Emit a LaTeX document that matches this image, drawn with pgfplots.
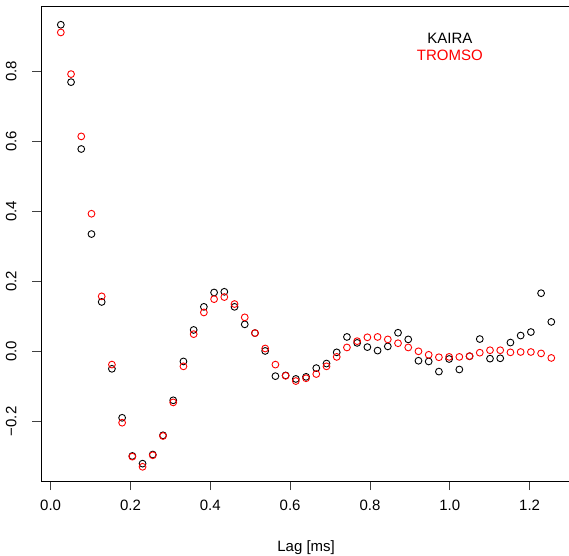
\documentclass[border=0pt]{standalone}
\usepackage{fontspec}
\setmainfont{Liberation Sans}
\usepackage{pgfplots}
\pgfplotsset{compat=1.18}
\begin{document}
\begin{tikzpicture}[x=1pt,y=1pt]
\begin{axis}[
  at={(41.5pt,74pt)}, anchor=south west,
  scale only axis, width=529.2pt, height=475pt,
  xmin=-0.0228, xmax=1.303, ymin=-0.3706, ymax=0.9866,
  axis line style={line width=0.8pt},
  xtick={0,0.2,0.4,0.6,0.8,1.0,1.2},
  xticklabels={0.0,0.2,0.4,0.6,0.8,1.0,1.2},
  ytick={-0.2,0,0.2,0.4,0.6,0.8},
  yticklabels={−0.2,0.0,0.2,0.4,0.6,0.8},
  xtick pos=bottom, ytick pos=left,
  tick align=outside, major tick length=9pt,
  tick style={line width=0.8pt, black!75},
  tick label style={font=\fontsize{15}{18}\selectfont},
  xticklabel style={anchor=base, yshift=-20pt},
  yticklabel style={rotate=90, anchor=base, yshift=16pt},
  xlabel={Lag [ms]},
  xlabel style={font=\fontsize{15}{18}\selectfont, anchor=base, at={(axis description cs:0.5,0)}, yshift=-70pt},
  every axis plot/.append style={only marks, mark=o, mark size=3.4pt, line width=0.9pt},
]
\addplot[black] coordinates {
(0.0256,0.933) (0.0512,0.769) (0.0768,0.578) (0.1024,0.335) (0.1280,0.141)
(0.1536,-0.050) (0.1792,-0.190) (0.2048,-0.299) (0.2304,-0.321) (0.2560,-0.295)
(0.2816,-0.240) (0.3072,-0.140) (0.3328,-0.029) (0.3584,0.061) (0.3840,0.127)
(0.4096,0.168) (0.4352,0.170) (0.4608,0.127) (0.4864,0.077) (0.5120,0.052)
(0.5376,0.001) (0.5632,-0.071) (0.5888,-0.069) (0.6144,-0.079) (0.6400,-0.073)
(0.6656,-0.048) (0.6912,-0.035) (0.7168,-0.003) (0.7424,0.041) (0.7680,0.024)
(0.7936,0.012) (0.8192,0.002) (0.8448,0.014) (0.8704,0.053) (0.8960,0.034)
(0.9216,-0.027) (0.9472,-0.029) (0.9728,-0.058) (0.9984,-0.022) (1.0240,-0.052)
(1.0496,-0.014) (1.0752,0.035) (1.1008,-0.021) (1.1264,-0.020) (1.1520,0.025)
(1.1776,0.045) (1.2032,0.055) (1.2288,0.166) (1.2544,0.084)
};
\addplot[red] coordinates {
(0.0256,0.911) (0.0512,0.792) (0.0768,0.614) (0.1024,0.393) (0.1280,0.157)
(0.1536,-0.038) (0.1792,-0.204) (0.2048,-0.301) (0.2304,-0.330) (0.2560,-0.297)
(0.2816,-0.242) (0.3072,-0.146) (0.3328,-0.043) (0.3584,0.049) (0.3840,0.111)
(0.4096,0.149) (0.4352,0.155) (0.4608,0.135) (0.4864,0.097) (0.5120,0.052)
(0.5376,0.008) (0.5632,-0.038) (0.5888,-0.070) (0.6144,-0.085) (0.6400,-0.077)
(0.6656,-0.065) (0.6912,-0.043) (0.7168,-0.016) (0.7424,0.011) (0.7680,0.029)
(0.7936,0.040) (0.8192,0.041) (0.8448,0.034) (0.8704,0.023) (0.8960,0.011)
(0.9216,0.000) (0.9472,-0.010) (0.9728,-0.017) (0.9984,-0.016) (1.0240,-0.016)
(1.0496,-0.014) (1.0752,-0.004) (1.1008,0.003) (1.1264,0.003) (1.1520,-0.003)
(1.1776,-0.002) (1.2032,-0.002) (1.2288,-0.006) (1.2544,-0.019)
};
\node[anchor=base, text=black, font=\fontsize{15}{18}\selectfont, inner sep=0pt] at (axis cs:1.0005,0.878) {KAIRA};
\node[anchor=base, text=red, font=\fontsize{15}{18}\selectfont, inner sep=0pt] at (axis cs:1.0,0.830) {TROMSO};
\end{axis}
\pgfresetboundingbox
\useasboundingbox (0,0) rectangle (569,555);
\end{tikzpicture}
\end{document}
